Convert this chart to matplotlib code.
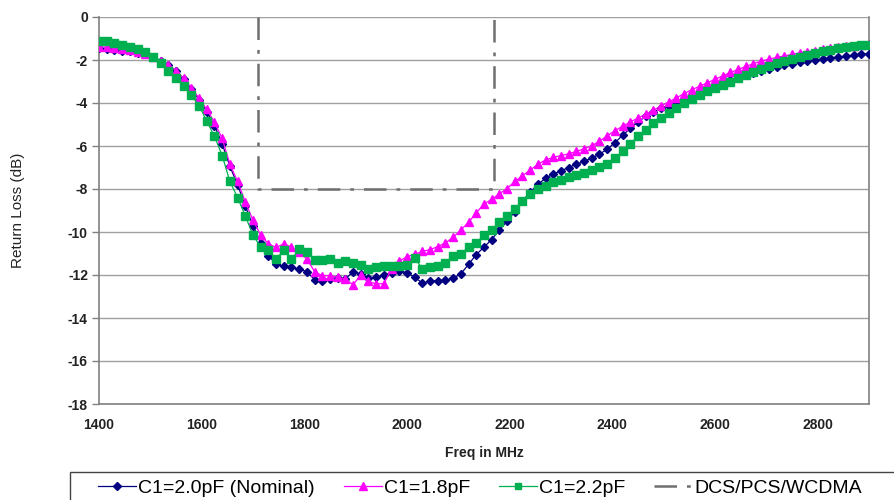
import matplotlib
matplotlib.use("Agg")
import matplotlib.pyplot as plt
from matplotlib.patches import Rectangle

plt.rcParams['font.family'] = ['Liberation Sans', 'DejaVu Sans']

# Frequency sweep (MHz)
freq = list(range(1400, 2901, 15))

rl_c20 = [-1.45, -1.48, -1.52, -1.56, -1.60, -1.66, -1.74, -1.86, -2.04, -2.22,
          -2.52, -2.88, -3.35, -3.85, -4.40, -5.05, -5.90, -6.95, -7.80, -8.80,
          -9.70, -10.50, -11.10, -11.50, -11.60, -11.65, -11.72, -11.85, -12.22, -12.26,
          -12.18, -12.15, -12.18, -11.85, -11.95, -12.15, -12.10, -12.00, -11.90, -11.82,
          -11.90, -12.10, -12.38, -12.28, -12.26, -12.24, -12.15, -11.95, -11.50, -11.05,
          -10.70, -10.35, -9.90, -9.50, -9.05, -8.55, -8.15, -7.78, -7.50, -7.30,
          -7.15, -7.00, -6.85, -6.72, -6.55, -6.38, -6.15, -5.85, -5.50, -5.18,
          -4.88, -4.62, -4.41, -4.25, -4.12, -3.97, -3.80, -3.63, -3.46, -3.32,
          -3.20, -3.06, -2.94, -2.83, -2.72, -2.61, -2.50, -2.42, -2.33, -2.25,
          -2.18, -2.11, -2.05, -2.00, -1.96, -1.91, -1.87, -1.83, -1.78, -1.74,
          -1.70]

rl_c18 = [-1.38, -1.41, -1.45, -1.50, -1.55, -1.62, -1.72, -1.86, -2.04, -2.22,
          -2.50, -2.85, -3.30, -3.78, -4.30, -4.90, -5.65, -6.85, -7.65, -8.60,
          -9.45, -10.15, -10.55, -10.72, -10.55, -10.70, -10.95, -11.25, -11.85, -12.03,
          -12.03, -12.10, -12.20, -12.45, -12.00, -12.30, -12.42, -12.40, -11.70, -11.35,
          -11.15, -11.03, -10.90, -10.82, -10.68, -10.50, -10.25, -9.90, -9.55, -9.10,
          -8.70, -8.48, -8.22, -7.98, -7.65, -7.38, -7.12, -6.85, -6.65, -6.53,
          -6.45, -6.36, -6.25, -6.13, -5.98, -5.78, -5.52, -5.29, -5.08, -4.88,
          -4.70, -4.52, -4.33, -4.14, -3.95, -3.76, -3.56, -3.38, -3.22, -3.06,
          -2.90, -2.74, -2.58, -2.44, -2.30, -2.17, -2.05, -1.96, -1.88, -1.81,
          -1.74, -1.67, -1.61, -1.56, -1.51, -1.46, -1.41, -1.37, -1.33, -1.29,
          -1.24]

rl_c22 = [-1.10, -1.13, -1.20, -1.28, -1.38, -1.50, -1.64, -1.86, -2.16, -2.50,
          -2.85, -3.20, -3.64, -4.12, -4.85, -5.55, -6.45, -7.65, -8.40, -9.25,
          -10.15, -10.70, -10.85, -11.25, -10.85, -11.25, -10.80, -10.95, -11.30, -11.30,
          -11.26, -11.42, -11.34, -11.45, -11.55, -11.72, -11.65, -11.57, -11.57, -11.57,
          -11.55, -11.20, -11.72, -11.65, -11.57, -11.42, -11.11, -11.00, -10.72, -10.50,
          -10.15, -9.92, -9.55, -9.25, -8.92, -8.55, -8.24, -8.02, -7.84, -7.68,
          -7.56, -7.45, -7.36, -7.25, -7.12, -6.98, -6.82, -6.58, -6.25, -5.90,
          -5.55, -5.25, -4.95, -4.68, -4.45, -4.22, -3.98, -3.80, -3.62, -3.45,
          -3.30, -3.15, -3.00, -2.85, -2.70, -2.55, -2.40, -2.28, -2.15, -2.05,
          -1.94, -1.84, -1.75, -1.66, -1.59, -1.52, -1.46, -1.41, -1.36, -1.32,
          -1.29]

# Band mask (DCS/PCS/WCDMA)
band_edges = [1710, 2170]
band_level = -8
band_top = 0

x_ticks = [1400, 1600, 1800, 2000, 2200, 2400, 2600, 2800]
y_ticks = [0, -2, -4, -6, -8, -10, -12, -14, -16, -18]

W, H = 895, 500
fig = plt.figure(figsize=(W / 100, H / 100), dpi=100)
ax = fig.add_axes([99 / W, 1 - 404 / H, (869 - 99) / W, (404 - 17) / H])

grid_c = '#a0a0a0'
for yv in y_ticks:
    ax.axhline(yv, color=grid_c, lw=1.0, zorder=0)

ax.plot(freq, rl_c20, color='#000080', marker='D', ms=4.3, lw=0.9,
        label='C1=2.0pF (Nominal)', zorder=3)
ax.plot(freq, rl_c18, color='#FF00FF', marker='^', ms=6.0, lw=0.9,
        label='C1=1.8pF', zorder=4)
ax.plot(freq, rl_c22, color='#00B050', marker='s', ms=5.8, lw=0.9,
        label='C1=2.2pF', zorder=5)

ax.plot([band_edges[0], band_edges[0], band_edges[1], band_edges[1]],
        [band_top, band_level, band_level, band_top],
        color='#6e6e6e', lw=1.8, linestyle=(0, (9, 4, 1.5, 4)),
        label='DCS/PCS/WCDMA', zorder=6)

ax.set_xlim(1400, 2900)
ax.set_ylim(-18, 0)
ax.set_xticks(x_ticks)
ax.set_yticks(y_ticks)
ax.set_xticklabels([str(v) for v in x_ticks], fontsize=10, fontweight='bold', color='#222222')
ax.set_yticklabels([str(v) for v in y_ticks], fontsize=10, fontweight='bold', color='#222222')
ax.tick_params(axis='x', length=0, pad=10)
ax.tick_params(axis='y', length=5, width=1, color='#808080', direction='out', pad=3)

for s in ['left', 'bottom', 'right']:
    ax.spines[s].set_color('#808080')
    ax.spines[s].set_linewidth(1.2)
ax.spines['top'].set_visible(False)

ax.set_xlabel('Freq in MHz', fontsize=10, fontweight='bold', labelpad=10, color='#222222')
ax.set_ylabel('Return Loss (dB)', fontsize=11, labelpad=31, color='#222222')

# Legend frame (extends past the figure edges like the reference)
fig.patches.append(Rectangle((70.5 / W, -0.05), 1.0, (1 - 472 / H) + 0.05,
                             transform=fig.transFigure, fill=False,
                             edgecolor='#444444', lw=1.0))

leg = fig.legend(loc='center left', bbox_to_anchor=(98 / W, 1 - 488 / H), ncol=4,
                 fontsize=14, frameon=False,
                 handlelength=1.95, handletextpad=0.1, columnspacing=1.5,
                 borderpad=0.0, borderaxespad=0.0, markerscale=0.85)

fig.savefig('out.png', dpi=100)
